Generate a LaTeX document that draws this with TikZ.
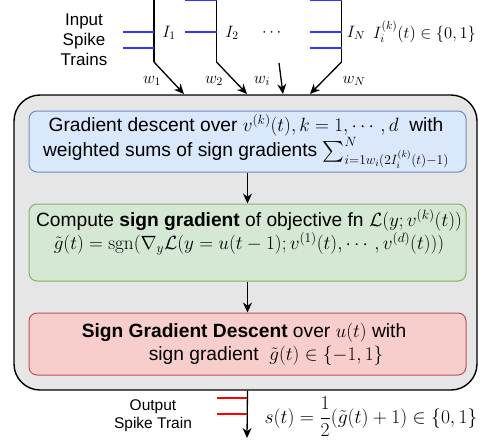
\RequirePackage{fix-cm}
\documentclass[tikz,border=0pt]{standalone}
\usepackage{amsmath}
\usepackage[no-math]{fontspec}
\setmainfont{Liberation Sans}
\usetikzlibrary{arrows.meta}
\definecolor{outerfill}{HTML}{E6E6E6}
\definecolor{bfill}{HTML}{DAE8FC}
\definecolor{bdraw}{HTML}{6C8EBF}
\definecolor{gfill}{HTML}{D5E8D4}
\definecolor{gdraw}{HTML}{82B366}
\definecolor{rfill}{HTML}{F8CECC}
\definecolor{rdraw}{HTML}{B85450}
\definecolor{spikeblue}{HTML}{3333FF}
\definecolor{spikered}{HTML}{FF0000}
\begin{document}
\begin{tikzpicture}[x=1pt,y=-1pt,
  arr/.style={-{Stealth[length=10pt,width=9pt]}, line width=1.3pt},
  trainline/.style={line width=1.4pt},
  bspike/.style={line width=1.3pt, draw=spikeblue},
  rspike/.style={line width=1.3pt, draw=spikered},
  outerbox/.style={draw=black, line width=1.4pt, fill=outerfill, rounded corners=26pt, inner sep=0pt},
  stepbox/.style={rounded corners=8pt, line width=1pt, inner sep=0pt, minimum width=437pt},
  boxtxt/.style={align=center, font=\fontsize{19.2}{23}\selectfont, inner sep=0pt},
  sidetxt/.style={align=center, font=\fontsize{17}{20}\selectfont, inner sep=0pt},
  mathlbl/.style={font=\fontsize{16.5}{19}\selectfont, inner sep=0pt}
]
\useasboundingbox (0,0) rectangle (483,440);

% outer block
\node[outerbox, minimum width=463pt, minimum height=295pt] (outer) at (245.5,242.5) {};

% inner boxes
\node[stepbox, fill=bfill, draw=bdraw, minimum height=61pt] (blue) at (247.5,141.5) {};
\node[stepbox, fill=gfill, draw=gdraw, minimum height=77pt] (green) at (247.5,242.5) {};
\node[stepbox, fill=rfill, draw=rdraw, minimum height=62pt] (red) at (247.5,344) {};

\node[boxtxt] (bluetxt) at (246,141.5) {Gradient descent over $v^{(k)}(t), k=1,\cdots,d$\ \ with\\
 weighted sums of sign gradients $\sum_{i=1 w_i(2I_i^{(k)}(t)-1)}^{N}$};
\node[boxtxt] (greentxt) at (249,232) {Compute \textbf{sign gradient} of objective fn $\mathcal{L}(y;v^{(k)}(t))$\\
 $\tilde{g}(t)=\mathrm{sgn}(\nabla_y\mathcal{L}(y=u(t-1);v^{(1)}(t),\cdots,v^{(d)}(t)))$};
\node[boxtxt] (redtxt) at (244,344) {\textbf{Sign Gradient Descent} over $u(t)$ with\\
 \hspace*{44pt}sign gradient\ \ $\tilde{g}(t)\in\{-1,1\}$};

\draw[arr] (blue.south) -- (green.north);
\draw[arr] (green.south) -- (red.north);

% input spike trains
\node[sidetxt] (inlabel) at (84,40) {Input\\Spike\\Trains};
\coordinate (t1) at (154,0);   \coordinate (b1) at (154,62);
\coordinate (t2) at (216.5,0); \coordinate (b2) at (216.5,62);
\coordinate (tN) at (341.5,0); \coordinate (bN) at (341.5,62);
\draw[trainline] (t1) -- (b1);
\draw[trainline] (t2) -- (b2);
\draw[trainline] (tN) -- (bN);
\draw[bspike] (123,32) -- (154,32);
\draw[bspike] (123,48) -- (154,48);
\draw[bspike] (185,0.7) -- (216.5,0.7);
\draw[bspike] (185,32) -- (216.5,32);
\draw[bspike] (310,0.7) -- (341.5,0.7);
\draw[bspike] (310,32) -- (341.5,32);
\draw[bspike] (310,48) -- (341.5,48);

\node[mathlbl] (I1) at (169,33) {$I_1$};
\node[mathlbl] (I2) at (232,33) {$I_2$};
\node[mathlbl] (dots) at (273,33) {$\cdots$};
\node[mathlbl] (IN) at (356,33) {$I_N$};
\node[mathlbl] (Iik) at (424.5,32) {$I_i^{(k)}(t)\in\{0,1\}$};

% weight arrows
\coordinate (e1) at (184,94);
\coordinate (e2) at (247,94);
\coordinate (si) at (279,63);
\coordinate (ei) at (283,94);
\coordinate (eN) at (310,94);
\draw[arr] (b1) -- (e1);
\draw[arr] (b2) -- (e2);
\draw[arr] (si) -- (ei);
\draw[arr] (bN) -- (eN);
\node[mathlbl] (w1) at (152,81) {$w_1$};
\node[mathlbl] (w2) at (214,81) {$w_2$};
\node[mathlbl] (wi) at (262,81) {$w_i$};
\node[mathlbl] (wN) at (354,81) {$w_N$};

% output
\coordinate (outend) at (247,438);
\draw[arr] (outer.south -| red.south) -- (outend);
\draw[rspike] (217,398) -- (247,398);
\draw[rspike] (217,414) -- (247,414);
\node[sidetxt, font=\fontsize{15.5}{18}\selectfont] (outlabel) at (153,416) {Output\\Spike Train};
\node[mathlbl, font=\fontsize{19.6}{22}\selectfont] (sform) at (371,417) {$s(t)=\dfrac{1}{2}(\tilde{g}(t)+1)\in\{0,1\}$};
\end{tikzpicture}
\end{document}
